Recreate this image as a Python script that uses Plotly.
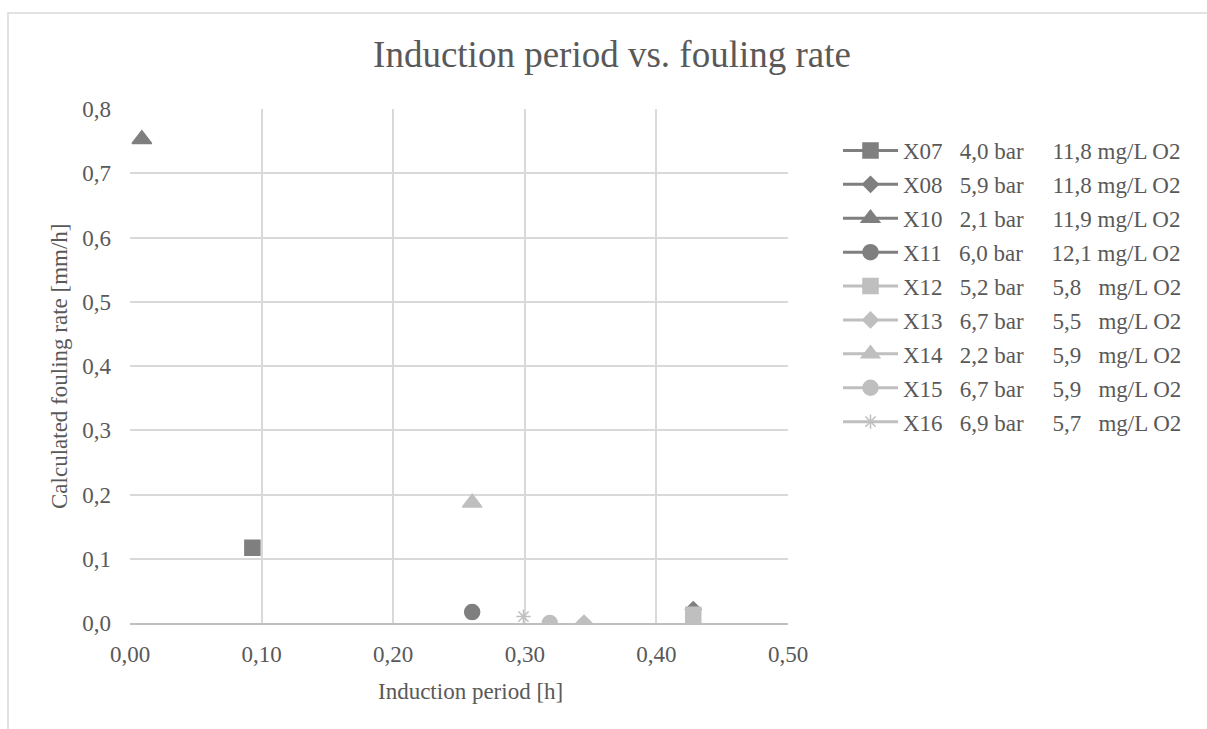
import plotly.graph_objects as go

# Series: run id, pressure, dissolved oxygen, induction period [h], fouling rate [mm/h]
runs = ["X07", "X08", "X10", "X11", "X12", "X13", "X14", "X15", "X16"]
pressure = ["4,0", "5,9", "2,1", "6,0", "5,2", "6,7", "2,2", "6,7", "6,9"]
oxygen = ["11,8", "11,8", "11,9", "12,1", "5,8", "5,5", "5,9", "5,9", "5,7"]
induction_period = [0.093, 0.428, 0.009, 0.260, 0.428, 0.345, 0.260, 0.319, 0.299]
fouling_rate = [0.117, 0.021, 0.753, 0.017, 0.013, 0.000, 0.187, 0.000, 0.010]

DARK = "#7f7f7f"
LIGHT = "#bfbfbf"
colors = [DARK, DARK, DARK, DARK, LIGHT, LIGHT, LIGHT, LIGHT, LIGHT]
symbols = ["square", "diamond", "triangle-up", "circle",
           "square", "diamond", "triangle-up", "circle", "asterisk-open"]
sizes = [15, 12, 17, 15, 15, 12, 17, 15, 12]

TEXT = "#595959"
FONT = "Liberation Serif"
NB = "\u00a0"

W, H = 1207, 729
ML, MR, MT, MB = 130, 419, 109, 106
PW, PH = W - ML - MR, H - MT - MB


def label(run, p, o):
    # pad single-digit oxygen values so the "mg/L" column lines up
    pad = NB * 3 if len(o) == 3 else NB
    return f"{run}{NB * 3}{p} bar{NB * 5}{o}{pad}mg/L O2"


fig = go.Figure()
for i, run in enumerate(runs):
    fig.add_trace(go.Scatter(
        x=[induction_period[i]], y=[fouling_rate[i]],
        mode="lines+markers",
        name=label(run, pressure[i], oxygen[i]),
        legendgroup=run,
        line=dict(color=colors[i], width=3),
        marker=dict(symbol=symbols[i], size=sizes[i], color=colors[i],
                    line=dict(color=colors[i], width=1.5)),
    ))


def px_x(px):
    return (px - ML) / PW


def px_y(py):
    return (H - MB - py) / PH


fig.update_layout(
    width=W, height=H,
    margin=dict(l=ML, r=MR, t=MT, b=MB),
    paper_bgcolor="white", plot_bgcolor="white",
    separators=",.",
    font=dict(family=FONT, size=23, color=TEXT),
    title=dict(text="Induction period vs. fouling rate",
               font=dict(family=FONT, size=37, color=TEXT),
               x=612 / W, xanchor="center", xref="container",
               y=1 - 54 / H, yanchor="middle", yref="container"),
    showlegend=True,
    legend=dict(x=px_x(838), y=px_y(129), xanchor="left", yanchor="top",
                font=dict(family=FONT, size=23, color=TEXT),
                itemwidth=55,
                tracegroupgap=1, traceorder="grouped",
                bgcolor="rgba(0,0,0,0)"),
    xaxis=dict(range=[0, 0.5], dtick=0.1, tickformat=".2f",
               showgrid=True, gridcolor="#d9d9d9", gridwidth=1.5,
               showline=True, linecolor="#bfbfbf", linewidth=1.5,
               zeroline=False, ticks="", ticklabelstandoff=10,
               tickfont=dict(family=FONT, size=23, color=TEXT),
               fixedrange=True),
    yaxis=dict(range=[0, 0.8], dtick=0.1, tickformat=".1f",
               showgrid=True, gridcolor="#d9d9d9", gridwidth=1.5,
               showline=False, zeroline=False, ticks="",
               ticklabelstandoff=18,
               tickfont=dict(family=FONT, size=23, color=TEXT),
               fixedrange=True),
    annotations=[
        dict(text="Induction period [h]", x=px_x(470), y=px_y(691),
             xref="paper", yref="paper", showarrow=False,
             xanchor="center", yanchor="middle",
             font=dict(family=FONT, size=23, color=TEXT)),
        dict(text="Calculated fouling rate [mm/h]", x=px_x(59), y=px_y(366),
             xref="paper", yref="paper", showarrow=False, textangle=-90,
             xanchor="center", yanchor="middle",
             font=dict(family=FONT, size=23, color=TEXT)),
    ],
    shapes=[
        # chart frame
        dict(type="rect", xref="paper", yref="paper",
             x0=px_x(8), x1=px_x(1230), y0=px_y(760), y1=px_y(13),
             line=dict(color="#d9d9d9", width=1.5), layer="below"),
    ],
)

fig.write_html("out.html")
